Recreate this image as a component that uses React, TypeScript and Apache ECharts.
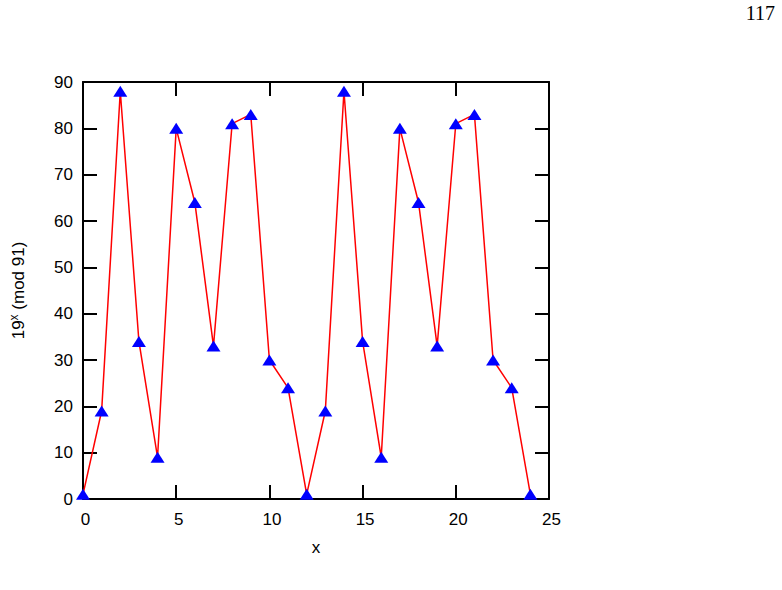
import React, { useEffect, useRef } from "react";
import * as echarts from "echarts";

const xValues = [0, 1, 2, 3, 4, 5, 6, 7, 8, 9, 10, 11, 12, 13, 14, 15, 16, 17, 18, 19, 20, 21, 22, 23, 24];
const yValues = [1, 19, 88, 34, 9, 80, 64, 33, 81, 83, 30, 24, 1, 19, 88, 34, 9, 80, 64, 33, 81, 83, 30, 24, 1];
const pageNumber = "117";

export default function App() {
  const ref = useRef<HTMLDivElement>(null);
  useEffect(() => {
    document.body.style.margin = "0";
    const chart = echarts.init(ref.current!, null, { renderer: "svg" });
    const font = "Liberation Sans";
    const axisLine = { show: true, onZero: false, lineStyle: { color: "#000", width: 2 } };
    const axisTick = { show: true, inside: true, length: 14, lineStyle: { color: "#000", width: 2 } };
    chart.setOption({
      animation: false,
      backgroundColor: "#fff",
      graphic: [
        {
          type: "text",
          right: 7,
          top: 3,
          style: { text: pageNumber, font: "20px 'Liberation Serif'", fill: "#000" },
        },
      ],
      grid: { left: 80, top: 82, width: 469, height: 417 },
      xAxis: [
        {
          type: "value",
          min: 0,
          max: 25,
          interval: 5,
          position: "bottom",
          axisLine,
          axisTick,
          splitLine: { show: false },
          axisLabel: { color: "#000", fontFamily: font, fontSize: 17, margin: 12, padding: [0, 0, 0, 5] },
          name: "x",
          nameLocation: "middle",
          nameGap: 40,
          nameTextStyle: { color: "#000", fontFamily: font, fontSize: 17 },
        },
        {
          type: "value",
          min: 0,
          max: 25,
          interval: 5,
          position: "top",
          axisLine,
          axisTick,
          splitLine: { show: false },
          axisLabel: { show: false },
        },
      ],
      yAxis: [
        {
          type: "value",
          min: 0,
          max: 90,
          interval: 10,
          position: "left",
          axisLine,
          axisTick,
          splitLine: { show: false },
          axisLabel: { color: "#000", fontFamily: font, fontSize: 17, margin: 10 },
          name: "{a|19}{s|x}{a| (mod 91)}",
          nameLocation: "middle",
          nameGap: 54,
          nameRotate: 90,
          nameTextStyle: {
            color: "#000",
            fontFamily: font,
            fontSize: 17,
            rich: {
              a: { fontFamily: font, fontSize: 17, color: "#000" },
              s: { fontFamily: font, fontSize: 12, color: "#000", padding: [0, 0, 9, 0] },
            },
          },
        },
        {
          type: "value",
          min: 0,
          max: 90,
          interval: 10,
          position: "right",
          axisLine,
          axisTick,
          splitLine: { show: false },
          axisLabel: { show: false },
        },
      ],
      series: [
        {
          type: "line",
          data: xValues.map((x, i) => [x, yValues[i]]),
          clip: false,
          symbol: "triangle",
          symbolSize: [14, 11],
          lineStyle: { color: "#ff0000", width: 1.5 },
          itemStyle: { color: "#0000ff" },
          z: 5,
        },
      ],
    });
    return () => chart.dispose();
  }, []);
  return <div ref={ref} style={{ width: 782, height: 590 }} />;
}
